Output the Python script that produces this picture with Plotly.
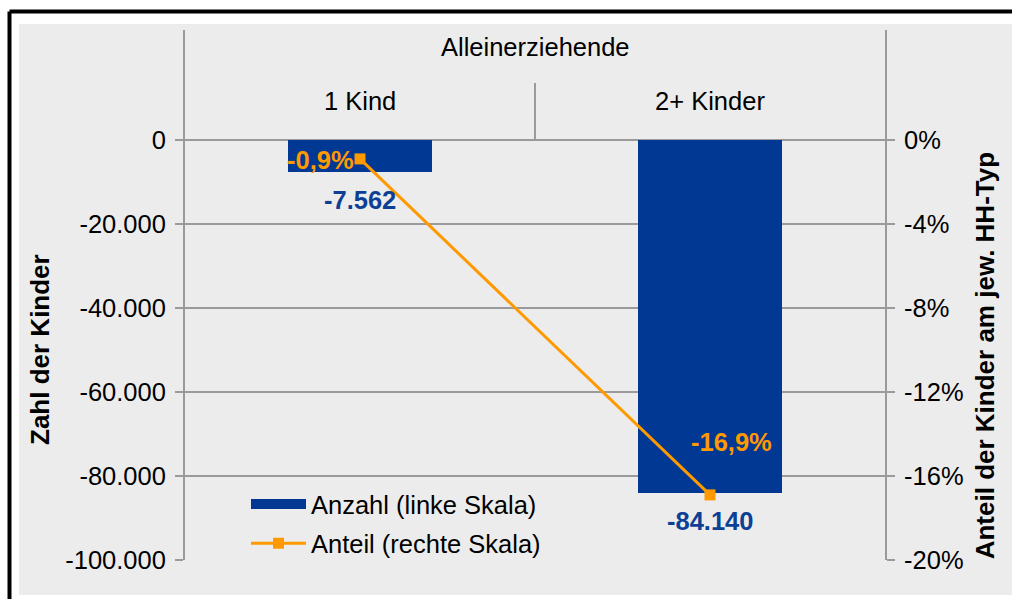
import plotly.graph_objects as go

# ---- data ----
group_label = "Alleinerziehende"
categories = ["1 Kind", "2+ Kinder"]
anzahl = [-7562, -84140]
anteil = [-0.9, -16.9]
anzahl_labels = ["-7.562", "-84.140"]
anteil_labels = ["-0,9%", "-16,9%"]
left_tickvals = [0, -20000, -40000, -60000, -80000, -100000]
left_ticktext = ["0", "-20.000", "-40.000", "-60.000", "-80.000", "-100.000"]
right_tickvals = [0, -4, -8, -12, -16, -20]
right_ticktext = ["0%", "-4%", "-8%", "-12%", "-16%", "-20%"]
series_names = ["Anzahl (linke Skala)", "Anteil (rechte Skala)"]
left_title = "Zahl der Kinder"
right_title = "Anteil der Kinder am jew. HH-Typ"

BLUE = "#003893"
ORANGE = "#FF9900"
GRID = "#9a9a9a"
BG = "#ececec"
FONT = "Liberation Sans, Arial, sans-serif"
FS = 25.5
FST = 26

W, H = 1012, 599
L, R, T, B = 185, 885, 30, 560  # plot area in page px


def px(x):
    return (x - L) / (R - L)


def py(y):
    return (B - y) / (B - T)


fig = go.Figure()
fig.add_trace(go.Bar(
    x=categories, y=anzahl, name=series_names[0], marker_color=BLUE,
    marker_line_width=0, width=0.41, yaxis="y", showlegend=False,
))
# legend entry for the bars (wide block symbol like the original)
fig.add_trace(go.Scatter(
    x=[None], y=[None], name=series_names[0], mode="lines",
    line=dict(color=BLUE, width=16), yaxis="y", legendgroup="a", showlegend=True,
))
fig.add_trace(go.Scatter(
    x=categories, y=anteil, name=series_names[1], mode="lines+markers",
    line=dict(color=ORANGE, width=3),
    marker=dict(symbol="square", size=11, color=ORANGE),
    yaxis="y2", legendgroup="b",
))

annotations = []
# header labels
annotations.append(dict(text=group_label, x=0.5, xref="paper", y=py(47), yref="paper",
                        showarrow=False, font=dict(size=FS, color="#000"), xanchor="center", yanchor="middle"))
for c in categories:
    annotations.append(dict(text=c, x=c, xref="x", y=py(101), yref="paper",
                            showarrow=False, font=dict(size=FS, color="#000"), xanchor="center", yanchor="middle"))
# data labels
for c, v, t in zip(categories, anzahl, anzahl_labels):
    annotations.append(dict(text="<b>%s</b>" % t, x=c, xref="x", y=v, yref="y", showarrow=False,
                            font=dict(size=FS, color="#0d3f95"), xanchor="center", yanchor="middle",
                            yshift=-28))
annotations.append(dict(text="<b>%s</b>" % anteil_labels[0], x=categories[0], xref="x", y=anteil[0], yref="y2",
                        showarrow=False, font=dict(size=FS, color=ORANGE), xanchor="right", yanchor="middle",
                        xshift=-4, yshift=-1))
annotations.append(dict(text="<b>%s</b>" % anteil_labels[1], x=categories[1], xref="x", y=anteil[1], yref="y2",
                        showarrow=False, font=dict(size=FS, color=ORANGE), xanchor="center", yanchor="middle",
                        xshift=21, yshift=53))
# axis titles
annotations.append(dict(text="<b>%s</b>" % left_title, x=px(40), xref="paper", y=-50000, yref="y",
                        showarrow=False, textangle=-90, font=dict(size=FST, color="#000"),
                        xanchor="center", yanchor="middle"))
annotations.append(dict(text="<b>%s</b>" % right_title, x=px(985), xref="paper", y=-10.3, yref="y2",
                        showarrow=False, textangle=-90, font=dict(size=FST, color="#000"),
                        xanchor="center", yanchor="middle"))

shapes = [
    # grey chart area
    dict(type="rect", xref="paper", yref="paper", x0=px(19), x1=px(1020), y0=py(595), y1=py(24),
         fillcolor=BG, line_width=0, layer="below"),
    # black frame (top and left)
    dict(type="line", xref="paper", yref="paper", x0=px(9.5), x1=px(1020), y0=py(11.5), y1=py(11.5),
         line=dict(color="#000", width=4), layer="below"),
    dict(type="line", xref="paper", yref="paper", x0=px(9.5), x1=px(9.5), y0=py(11.5), y1=py(605),
         line=dict(color="#000", width=4), layer="below"),
    # divider between categories in header
    dict(type="line", xref="x", yref="paper", x0=0.5, x1=0.5, y0=py(140), y1=py(83),
         line=dict(color=GRID, width=2), layer="below"),
]

fig.update_layout(
    width=W, height=H,
    margin=dict(l=L, r=W - R, t=T, b=H - B, pad=0),
    paper_bgcolor="white",
    plot_bgcolor=BG,
    font=dict(family=FONT, size=FS, color="#000"),
    bargap=0,
    showlegend=True,
    legend=dict(x=px(246), y=py(481), xanchor="left", yanchor="top", bgcolor="rgba(0,0,0,0)",
                font=dict(size=FS, color="#000"), tracegroupgap=3, itemwidth=55,
                traceorder="grouped"),
    xaxis=dict(type="category", range=[-0.5, 1.5], showticklabels=False, showgrid=False,
               zeroline=False, showline=False, ticks=""),
    yaxis=dict(range=[-100000, 26190.5], tickvals=left_tickvals, ticktext=left_ticktext,
               showgrid=True, gridcolor=GRID, gridwidth=2, zeroline=True, zerolinecolor=GRID,
               zerolinewidth=2, showline=True, linecolor=GRID, linewidth=2, ticks="outside",
               ticklen=8, tickwidth=2, tickcolor=GRID, tickfont=dict(size=FS, color="#000"),
               ticklabelstandoff=4),
    yaxis2=dict(range=[-20, 25.238 - 20], overlaying="y", side="right", tickvals=right_tickvals,
                ticktext=right_ticktext, showgrid=False, zeroline=False, showline=True,
                linecolor=GRID, linewidth=2, ticks="outside", ticklen=8, tickwidth=2, tickcolor=GRID,
                tickfont=dict(size=FS, color="#000"), ticklabelstandoff=4),
    annotations=annotations,
    shapes=shapes,
)

fig.write_html(
    "out.html",
    config={"displayModeBar": False},
    post_script="document.body.style.margin='0';document.body.style.overflow='hidden';",
)
